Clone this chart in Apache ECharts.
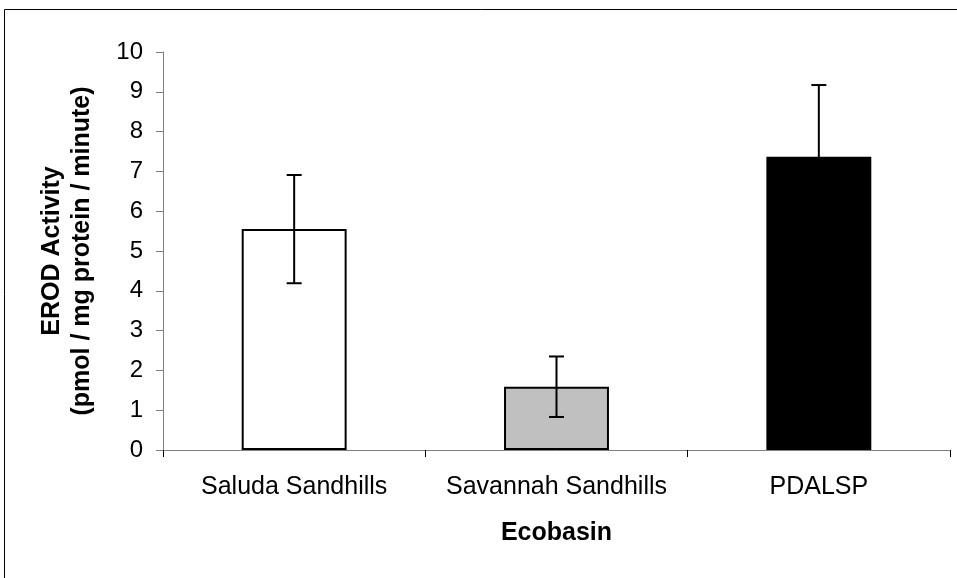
<!DOCTYPE html>
<html>
<head>
<meta charset="utf-8">
<script src="https://cdn.jsdelivr.net/npm/echarts@6/dist/echarts.min.js"></script>
<style>html,body{margin:0;padding:0;background:#fff;}#c{width:957px;height:578px;}</style>
</head>
<body>
<div id="c"></div>
<script>
const categories = ['Saluda Sandhills', 'Savannah Sandhills', 'PDALSP'];
const means = [5.55, 1.59, 7.37];
const errors = [1.36, 0.76, 1.8];
const barColors = ['#ffffff', '#c0c0c0', '#000000'];
const yTicks = [0, 1, 2, 3, 4, 5, 6, 7, 8, 9, 10];

const chart = echarts.init(document.getElementById('c'), null, {renderer: 'canvas'});
const font = 'Liberation Sans, Arial, sans-serif';
chart.setOption({
  animation: false,
  graphic: [{
    type: 'rect', silent: true,
    shape: {x: 4.5, y: 9.5, width: 1000, height: 1000},
    style: {fill: 'none', stroke: '#000', lineWidth: 1}
  }],
  grid: {left: 163, right: 7, top: 52, bottom: 128, containLabel: false},
  xAxis: {
    type: 'category', data: categories,
    name: 'Ecobasin', nameLocation: 'middle', nameGap: 71,
    nameTextStyle: {fontFamily: font, fontSize: 25, fontWeight: 'bold', color: '#000'},
    axisLine: {lineStyle: {color: '#808080', width: 1}},
    axisTick: {show: true, length: 7, lineStyle: {color: '#000'}},
    axisLabel: {fontFamily: font, fontSize: 25, color: '#000', margin: 25, interval: 0, hideOverlap: false}
  },
  yAxis: {
    type: 'value', min: 0, max: 10, interval: 1,
    name: 'EROD Activity\n(pmol / mg protein / minute)', nameLocation: 'middle', nameGap: 66,
    nameTextStyle: {fontFamily: font, fontSize: 25, fontWeight: 'bold', color: '#000', lineHeight: 30},
    axisLine: {show: true, lineStyle: {color: '#808080', width: 1}},
    axisTick: {show: true, length: 7, lineStyle: {color: '#808080'}},
    splitLine: {show: false},
    axisLabel: {fontFamily: font, fontSize: 24, color: '#000', margin: 20,
      formatter: v => yTicks.includes(v) ? String(v) : ''}
  },
  series: [{
    type: 'bar', barWidth: '40%',
    data: means.map((v, i) => ({value: v, itemStyle: {color: barColors[i], borderColor: '#000', borderWidth: 2}})),
    z: 2
  }, {
    type: 'custom', z: 3,
    data: means.map((v, i) => [i, v - errors[i], v + errors[i]]),
    renderItem: function (params, api) {
      const x = api.coord([api.value(0), 0])[0];
      const lo = api.coord([api.value(0), api.value(1)])[1];
      const hi = api.coord([api.value(0), api.value(2)])[1];
      const hw = 7.5;
      const st = {stroke: '#000', lineWidth: 2};
      return {type: 'group', children: [
        {type: 'line', shape: {x1: x, y1: lo, x2: x, y2: hi}, style: st},
        {type: 'line', shape: {x1: x - hw, y1: hi, x2: x + hw, y2: hi}, style: st},
        {type: 'line', shape: {x1: x - hw, y1: lo, x2: x + hw, y2: lo}, style: st}
      ]};
    }
  }]
});
</script>
</body>
</html>
